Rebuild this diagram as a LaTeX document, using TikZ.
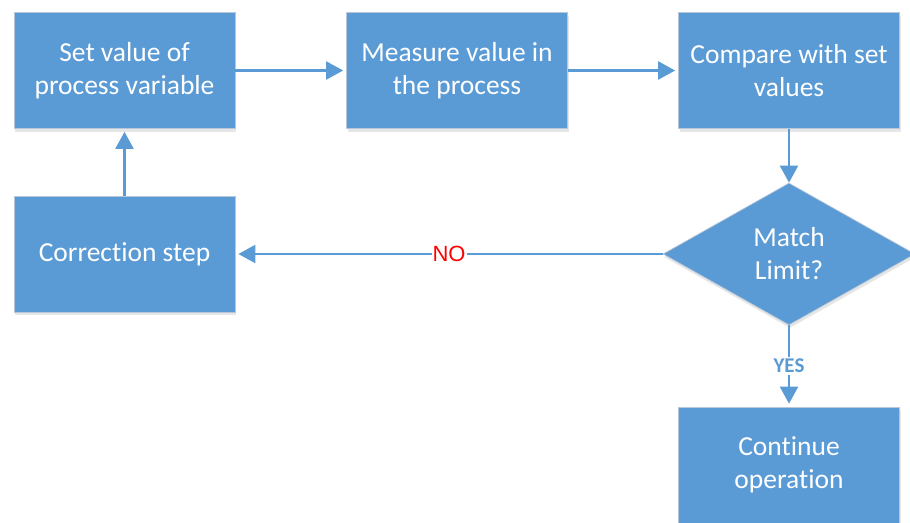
\documentclass[tikz,border=0pt]{standalone}
\usepackage{fontspec}
\setmainfont{Carlito}[RawFeature={-liga,-clig,-dlig,-calt}]
\newfontfamily\labelsans{Liberation Sans}
\usetikzlibrary{shapes.geometric,arrows.meta,shadows}
\definecolor{flowblue}{HTML}{5B9BD5}
\definecolor{flowedge}{HTML}{B8C8DA}
\begin{document}
\begin{tikzpicture}[x=1pt,y=-1pt,
  softshadow/.style={drop shadow={shadow xshift=1pt, shadow yshift=-3pt, opacity=0.14, fill=black!70}},
  box/.style={rectangle, fill=flowblue, draw=flowedge, line width=0.7pt,
    minimum width=221pt, minimum height=116pt, inner sep=0pt, align=center,
    text=white, font=\fontsize{27.5}{33}\selectfont, softshadow},
  decision/.style={diamond, fill=flowblue, draw=flowedge, line width=0.7pt,
    minimum width=252pt, minimum height=142pt, inner sep=0pt, align=center,
    text=white, font=\fontsize{27.5}{33}\selectfont, softshadow},
  arr/.style={draw=flowblue, line width=2.2pt, shorten >=3pt,
    -{Triangle[length=17pt,width=18pt]}},
  nolabel/.style={fill=white, text=red, inner sep=1pt, font=\labelsans\fontsize{22}{24}\selectfont},
  yeslabel/.style={fill=white, text=flowblue, inner sep=2pt, font=\bfseries\fontsize{21}{22}\selectfont}
]
\useasboundingbox (0,0) rectangle (910,522);
\clip (0,0) rectangle (910,522);

% process steps
\node[box] (set)  at (124.5,70.5) {Set value of\\process variable};
\node[box] (meas) at (457,70.5)   {Measure value in\\the process};
\node[box] (comp) at (789,70.5)   {Compare with set\\values};
\node[box] (corr) at (124.5,254)  {Correction step};
\node[decision] (match) at (789,254) {Match\\Limit?};
\node[box] (cont) at (789,465)    {Continue\\operation};

% flow
\draw[arr] (set.east) -- (meas.west);
\draw[arr] (meas.east) -- (comp.west);
\draw[arr, shorten >=0pt] (comp.south) -- (match.north);
\draw[arr] (match.west) -- node[nolabel, pos=0.5] {NO} (corr.east);
\draw[arr] (match.south) -- node[yeslabel, pos=0.5] {YES} (cont.north);
\draw[arr] (corr.north) -- (set.south);
\end{tikzpicture}
\end{document}
